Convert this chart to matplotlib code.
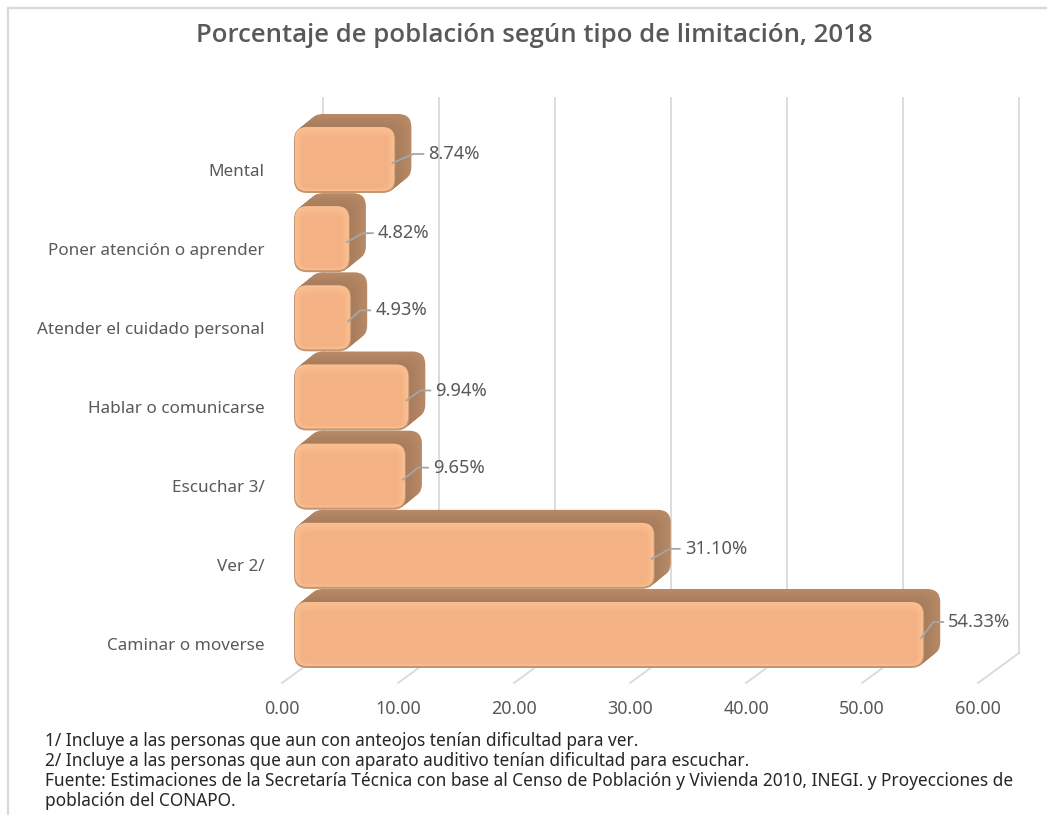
import matplotlib

matplotlib.use("Agg")
import matplotlib.pyplot as plt
import numpy as np
from matplotlib.colors import to_rgb
from matplotlib.lines import Line2D
from matplotlib.patches import FancyBboxPatch
from matplotlib.transforms import Affine2D, IdentityTransform

plt.rcParams["font.family"] = ["Noto Sans", "DejaVu Sans"]

# --------------------------------------------------------------------------
# Data
# --------------------------------------------------------------------------
CATEGORIES = [
    "Caminar o moverse",
    "Ver 2/",
    "Escuchar 3/",
    "Hablar o comunicarse",
    "Atender el cuidado personal",
    "Poner atención o aprender",
    "Mental",
]
VALUES = [54.33, 31.10, 9.65, 9.94, 4.93, 4.82, 8.74]
X_TICKS = [0, 10, 20, 30, 40, 50, 60]
TITLE = "Porcentaje de población según tipo de limitación, 2018"
NOTES = [
    "1/ Incluye a las personas que aun con anteojos tenían dificultad para ver.",
    "2/ Incluye a las personas que aun con aparato auditivo tenían dificultad para escuchar.",
    "Fuente: Estimaciones de la Secretaría Técnica con base al Censo de Población y Vivienda 2010, INEGI. y Proyecciones de",
    "población del CONAPO.",
]

# --------------------------------------------------------------------------
# Layout, all in pixels of the 1047x815 image
# --------------------------------------------------------------------------
W, H = 1047, 815
X0, X60 = 282, 978  # front edge of the floor
FLOOR_BOTTOM, WALL_TOP = 683, 98
DEPTH_X, DEPTH_Y = 41, 30  # floor front -> back wall
BAR_SHIFT = 12  # bar face starts this far right of the front zero
EXTRUDE_X, EXTRUDE_Y = 16, 13
BAR_PX = 66
ROW_BOTTOM, ROW_TOP = 635, 160  # pixel y of first and last category
# label offset from the bar face's right end / row centre
LABEL_DX = [24, 30, 27, 26, 24, 28, 33]
LABEL_DY = [13, 7, 9, 7, 8, 6, 6]

TEXT_GREY = "#595959"
GRID = "#D9D9D9"
LEADER = "#A6A6A6"
FACE = "#F4B183"
FACE_LIGHT = "#F9BD8F"
FACE_EDGE = "#C4956F"
SIDE_BACK = "#B88A67"
SIDE_FRONT = "#A67C5B"


def blend(c1, c2, t):
    return tuple((1 - t) * np.array(to_rgb(c1)) + t * np.array(to_rgb(c2)))


def main():
    fig = plt.figure(figsize=(W / 100, H / 100), dpi=100)
    ax = fig.add_axes([X0 / W, 1 - FLOOR_BOTTOM / H, (X60 - X0) / W, (FLOOR_BOTTOM - WALL_TOP - DEPTH_Y) / H])

    px_x = (X60 - X0) / 60  # pixels per unit
    px_y = (ROW_BOTTOM - ROW_TOP) / (len(CATEGORIES) - 1)
    ax.set_xlim(0, 60)
    ax.set_ylim(-(FLOOR_BOTTOM - ROW_BOTTOM) / px_y, -(FLOOR_BOTTOM - ROW_BOTTOM) / px_y + (FLOOR_BOTTOM - WALL_TOP - DEPTH_Y) / px_y)
    aspect = px_x / px_y

    for spine in ax.spines.values():
        spine.set_visible(False)
    ax.set_xticks(X_TICKS)
    ax.set_xticklabels([f"{t:.2f}" for t in X_TICKS], fontsize=12.9, color=TEXT_GREY)
    ax.set_yticks(range(len(CATEGORIES)))
    ax.set_yticklabels(CATEGORIES, fontsize=12.3, color=TEXT_GREY)
    ax.tick_params(axis="x", length=0, pad=12)
    ax.tick_params(axis="y", length=0, pad=12.7)
    # category names sit a little below the bar centres
    for label in ax.get_yticklabels():
        label.set_transform(label.get_transform() + Affine2D().translate(0, -9.5))

    # back wall and floor grid
    y_lo, y_hi = ax.get_ylim()
    back = ax.transData + Affine2D().translate(DEPTH_X, DEPTH_Y)
    for t in X_TICKS:
        ax.plot([t, t], [y_lo, y_hi], color=GRID, lw=1.3, transform=back, clip_on=False, zorder=1)
        x_front, y_front = ax.transData.transform((t, y_lo))
        ax.add_line(
            Line2D(
                [x_front, x_front + DEPTH_X],
                [y_front, y_front + DEPTH_Y],
                color=GRID,
                lw=1.3,
                transform=IdentityTransform(),
                clip_on=False,
                zorder=1,
            )
        )

    # bars: a stack of rounded boxes swept from back to front, then a bevelled face
    h = BAR_PX / px_y
    radius = 13 / px_x
    n_sweep = 16
    for i in np.arange(len(VALUES))[::-1]:  # upper rows first, lower rows sit in front
        v = VALUES[i]

        def box(inset, color, dx=0, dy=0):
            ins_x, ins_y = inset / px_x, inset / px_y
            patch = FancyBboxPatch(
                (ins_x, i - h / 2 + ins_y),
                v - 2 * ins_x,
                h - 2 * ins_y,
                boxstyle=f"round,pad=0,rounding_size={max(radius - ins_x, 0.05)}",
                mutation_aspect=aspect,
                facecolor=color,
                edgecolor="none",
                transform=ax.transData + Affine2D().translate(BAR_SHIFT + dx, dy),
                clip_on=False,
                zorder=3 + (len(VALUES) - i) * 0.1,
            )
            ax.add_patch(patch)

        for k in range(n_sweep, 0, -1):
            t = k / n_sweep
            box(0, blend(SIDE_FRONT, SIDE_BACK, t), EXTRUDE_X * t, EXTRUDE_Y * t)
        box(0, FACE_EDGE)
        box(1, FACE_LIGHT, dy=1)
        for k, inset in enumerate(np.linspace(3, 8, 6)):
            box(inset, blend(FACE_LIGHT, FACE, (k + 1) / 6), dy=-(inset - 3) * 0.5)

    # leader lines and value labels
    for i, v in enumerate(VALUES):
        end_x, end_y = ax.transData.transform((v, i))
        end_x += BAR_SHIFT
        dx, dy = LABEL_DX[i], LABEL_DY[i]
        ax.add_line(
            Line2D(
                [end_x - 3, end_x + dx - 15, end_x + dx - 5],
                [end_y - 3, end_y + dy, end_y + dy],
                color=LEADER,
                lw=1.3,
                transform=IdentityTransform(),
                clip_on=False,
                zorder=6,
            )
        )
        ax.annotate(
            f"{v:.2f}%",
            xy=(v, i),
            xytext=(BAR_SHIFT + dx, dy),
            textcoords="offset pixels",
            va="center",
            ha="left",
            fontsize=13.2,
            color=TEXT_GREY,
            zorder=7,
        )

    # chart frame, open on the right
    frame = dict(color=GRID, lw=1.6, transform=fig.transFigure)
    fig.add_artist(Line2D([8 / W, 8 / W], [0, 1 - 8 / H], **frame))
    fig.add_artist(Line2D([8 / W, 1], [1 - 8 / H, 1 - 8 / H], **frame))

    fig.text(
        534 / W, 1 - 36 / H, TITLE, ha="center", va="center",
        family="Open Sans", fontsize=18.5, fontweight="semibold", color=TEXT_GREY,
    )
    for text, y in zip(NOTES, [741, 761, 781, 801]):
        fig.text(45 / W, 1 - y / H, text, ha="left", va="center", fontsize=12.45, color="#262626")

    fig.savefig("out.png", dpi=100)


if __name__ == "__main__":
    main()
